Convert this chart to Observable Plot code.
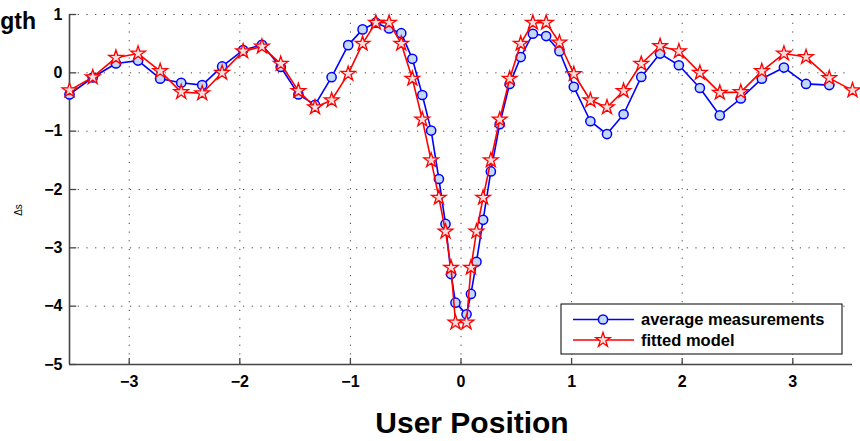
<!DOCTYPE html>
<html>
<head>
<meta charset="utf-8">
<script src="https://cdn.jsdelivr.net/npm/d3@7"></script>
<script src="https://cdn.jsdelivr.net/npm/@observablehq/plot@0.6"></script>
<style>
  html, body { margin: 0; padding: 0; background: #fff; }
  svg { font-family: "Liberation Sans", Arial, Helvetica, sans-serif; }
</style>
</head>
<body>
<div id="chart"></div>
<script>
// ---- data ----
const xPos = [-3.54, -3.33, -3.12, -2.92, -2.72, -2.53, -2.34, -2.16, -1.97, -1.80, -1.63, -1.47, -1.32,
  -1.17, -1.02, -0.89, -0.77, -0.65, -0.54, -0.44, -0.35, -0.27, -0.20, -0.14, -0.09, -0.05,
  0.05, 0.09, 0.14, 0.20, 0.27, 0.35, 0.44, 0.54, 0.65, 0.77, 0.89, 1.02, 1.17, 1.32,
  1.47, 1.63, 1.80, 1.97, 2.16, 2.34, 2.53, 2.72, 2.92, 3.12, 3.33, 3.54];
const avgMeasurements = [-0.37, -0.08, 0.16, 0.21, -0.10, -0.17, -0.21, 0.11, 0.39, 0.48, 0.10, -0.37, -0.55,
  -0.075, 0.475, 0.745, 0.86, 0.76, 0.68, 0.24, -0.38, -0.99, -1.82, -2.59, -3.45, -3.94,
  -4.14, -3.79, -3.24, -2.52, -1.69, -0.88, -0.19, 0.27, 0.67, 0.63, 0.37, -0.24, -0.83, -1.05,
  -0.71, -0.07, 0.33, 0.13, -0.26, -0.73, -0.44, -0.10, 0.09, -0.19, -0.21, null];
const fittedModel = [-0.30, -0.075, 0.26, 0.33, 0.03, -0.33, -0.35, 0.0, 0.37, 0.45, 0.155, -0.31, -0.59,
  -0.47, -0.017, 0.5, 0.86, 0.86, 0.5, -0.1, -0.8, -1.5, -2.14, -2.72, -3.34, -4.28,
  -4.28, -3.34, -2.72, -2.14, -1.5, -0.8, -0.1, 0.5, 0.86, 0.86, 0.52, -0.02, -0.47, -0.59,
  -0.31, 0.155, 0.46, 0.37, 0.0, -0.34, -0.33, 0.03, 0.33, 0.27, -0.09, -0.30];
const xTicks = [-3, -2, -1, 0, 1, 2, 3];
const yTicks = [-5, -4, -3, -2, -1, 0, 1];
const seriesNames = ["average measurements", "fitted model"];
const titleFragment = "gth";
const yLabel = "\u0394s";
const xLabel = "User Position";

const blueData = xPos.map((x, i) => ({x, y: avgMeasurements[i]})).filter(d => d.y != null);
const redData = xPos.map((x, i) => ({x, y: fittedModel[i]}));

const blue = "#0000ff", blueFill = "#c3d9f7";
const red = "#ff0000", redFill = "#f9dede";
const fmt = d => d < 0 ? "\u2212" + Math.abs(d) : String(d);

const chart = Plot.plot({
  width: 860,
  height: 441,
  marginLeft: 69,
  marginRight: 8,
  marginTop: 14,
  marginBottom: 77,
  style: {fontFamily: "'Liberation Sans', Arial, Helvetica, sans-serif", background: "#fff"},
  x: {domain: [-3.54, 3.54], ticks: xTicks},
  y: {domain: [-5, 1], ticks: yTicks},
  marks: [
    Plot.gridX(xTicks, {stroke: "#222", strokeOpacity: 0.85, strokeWidth: 1, strokeDasharray: "1.2,7.5"}),
    Plot.gridY(yTicks, {stroke: "#222", strokeOpacity: 0.85, strokeWidth: 1, strokeDasharray: "1.2,7.5"}),
    Plot.axisX(xTicks, {tickSize: 0, tickPadding: 11, fontSize: 16, fontWeight: "bold", fill: "#000", label: null, tickFormat: fmt}),
    Plot.axisY(yTicks, {tickSize: 0, tickPadding: 7, fontSize: 16, fontWeight: "bold", fill: "#000", label: null, tickFormat: fmt}),
    // inward ticks
    Plot.ruleX(xTicks, {y1: -5, y2: -4.895, stroke: "#444", strokeWidth: 1.3}),
    Plot.ruleY(yTicks, {x1: -3.54, x2: -3.475, stroke: "#444", strokeWidth: 1.3}),
    // axis lines
    Plot.ruleX([-3.54], {y1: -5, y2: 1, stroke: "#444", strokeWidth: 1.6}),
    Plot.ruleY([-5], {x1: -3.54, x2: 3.54, stroke: "#444", strokeWidth: 1.6}),
    // series
    Plot.line(blueData, {x: "x", y: "y", stroke: blue, strokeWidth: 1.6}),
    Plot.dot(blueData, {x: "x", y: "y", r: 4.6, stroke: blue, strokeWidth: 1.5, fill: blueFill}),
    Plot.line(redData, {x: "x", y: "y", stroke: red, strokeWidth: 1.6}),
    Plot.dot(redData, {x: "x", y: "y", r: 4.6, symbol: "star", stroke: red, strokeWidth: 1.3, fill: redFill})
  ]
});
document.getElementById("chart").appendChild(chart);

const svg = d3.select(chart);
// annotations
svg.append("text").attr("x", 36).attr("y", 29).attr("text-anchor", "end")
  .attr("font-size", 23).attr("font-weight", "bold").attr("fill", "#000").text(titleFragment);
svg.append("text").attr("transform", "translate(22,210) rotate(-90)").attr("text-anchor", "middle")
  .attr("font-size", 10).attr("fill", "#000").text(yLabel);
svg.append("text").attr("x", 472).attr("y", 433).attr("text-anchor", "middle")
  .attr("font-size", 30).attr("font-weight", "bold").attr("fill", "#000").text(xLabel);

// legend
const lg = svg.append("g").attr("text-anchor", "start");
lg.append("rect").attr("x", 561).attr("y", 304).attr("width", 281).attr("height", 50)
  .attr("fill", "#fff").attr("stroke", "#000").attr("stroke-width", 1);
const entries = [
  {name: seriesNames[0], y: 319.5, color: blue, fill: blueFill, sym: "circle"},
  {name: seriesNames[1], y: 340, color: red, fill: redFill, sym: "star"}
];
entries.forEach(e => {
  lg.append("line").attr("x1", 573).attr("x2", 634).attr("y1", e.y).attr("y2", e.y)
    .attr("stroke", e.color).attr("stroke-width", 1.6);
  if (e.sym === "circle") {
    lg.append("circle").attr("cx", 603).attr("cy", e.y).attr("r", 4.6)
      .attr("stroke", e.color).attr("stroke-width", 1.5).attr("fill", e.fill);
  } else {
    lg.append("path").attr("transform", `translate(603,${e.y})`)
      .attr("d", d3.symbol(d3.symbolStar, Math.PI * 4.6 * 4.6)())
      .attr("stroke", e.color).attr("stroke-width", 1.3).attr("fill", e.fill);
  }
  lg.append("text").attr("x", 641).attr("y", e.y).attr("dy", "0.35em").attr("text-anchor", "start")
    .attr("font-size", 16.5).attr("font-weight", "bold").attr("fill", "#000").text(e.name);
});
</script>
</body>
</html>
